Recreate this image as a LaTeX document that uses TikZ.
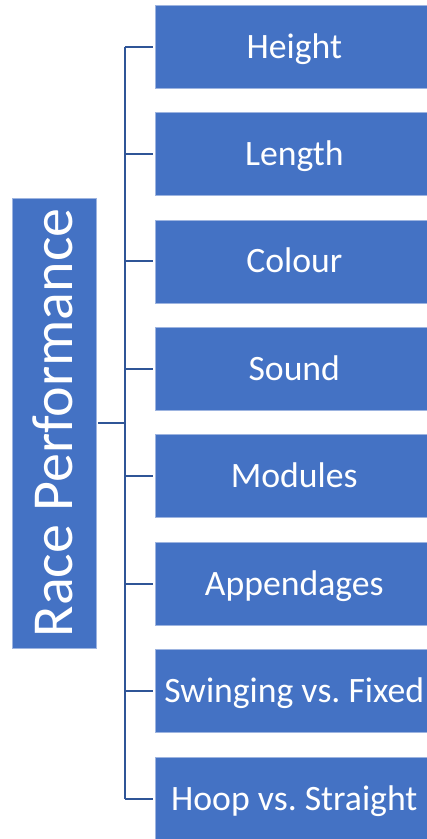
\documentclass[tikz,border=0pt]{standalone}
\usepackage{fontspec}
\setmainfont{Carlito}
\frenchspacing
\definecolor{boxblue}{HTML}{4472C4}
\definecolor{boxedge}{HTML}{9DB4E0}
\definecolor{linkblue}{HTML}{2F5597}
\begin{document}
\begin{tikzpicture}[x=1pt,y=-1pt,
  item/.style={fill=boxblue, draw=boxedge, line width=0.6pt, minimum width=279pt, minimum height=83pt,
    inner sep=0pt, text=white, font=\fontsize{35.7}{40}\selectfont, anchor=west,
    text height=23pt, text depth=0pt},
  rootbox/.style={fill=boxblue, draw=boxedge, line width=0.6pt, rotate=90, minimum width=450pt, minimum height=84pt,
    inner sep=0pt, text=white, font=\fontsize{58}{62}\selectfont, text height=37pt, text depth=0pt},
  link/.style={draw=linkblue, line width=2pt}]
\useasboundingbox (0,0) rectangle (427,839);
\node[rootbox] (root) at (54,423) {Race Performance};
\node[item] (i1) at (154.5,46.5) {Height};
\node[item] (i2) at (154.5,153.9) {Length};
\node[item] (i3) at (154.5,261.3) {Colour};
\node[item] (i4) at (154.5,368.7) {Sound};
\node[item] (i5) at (154.5,476.1) {Modules};
\node[item] (i6) at (154.5,583.5) {Appendages};
\node[item] (i7) at (154.5,690.9) {Swinging vs.\ Fixed};
\node[item] (i8) at (154.5,798.5) {Hoop vs.\ Straight};
\coordinate (bus) at (125,0);
\draw[link] ([xshift=1.5pt]root.south) -- (bus |- root.south);
\draw[link] (bus |- i1.west) -- (bus |- i8.west);
\foreach \i in {1,...,8} {
  \draw[link] (bus |- i\i.west) -- ([xshift=-2pt]i\i.west);
}
\end{tikzpicture}
\end{document}
